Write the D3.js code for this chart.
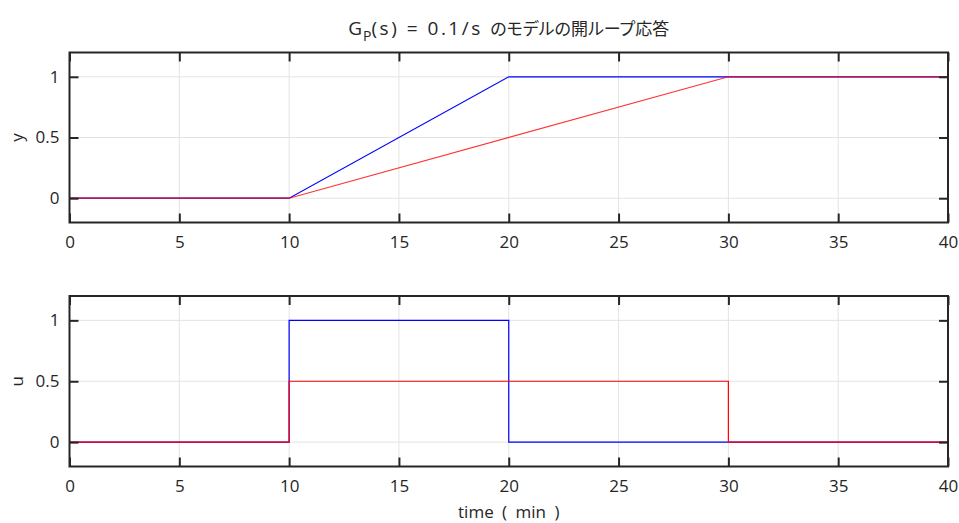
<!DOCTYPE html>
<html>
<head>
    <meta charset="UTF-8">
    <title>open loop response</title>
    <style>
        body { margin: 0; background: white; }
        text { font-family: "Open Sans", "Noto Sans CJK JP", sans-serif; fill: #262626; }
        .jp { font-family: "Noto Sans CJK JP"; font-feature-settings: "palt"; }
    </style>
</head>
<body>
    <svg></svg>
    <script src="https://d3js.org/d3.v7.min.js"></script>
    <script>
        let width = 959, height = 523

        // data: break points of each series (time in min)
        let xTicks = [0, 5, 10, 15, 20, 25, 30, 35, 40]
        let yTicks = [0, 0.5, 1]
        let tBlueY = [0, 10, 20, 40]
        let blueY = [0, 0, 1, 1]
        let tRedY = [0, 10, 30, 40]
        let redY = [0, 0, 1, 1]
        let tBlueU = [0, 10, 20, 40]
        let blueU = [0, 1, 0, 0]
        let tRedU = [0, 10, 30, 40]
        let redU = [0, 0.5, 0, 0]

        let svg = d3.select("svg")
            .attr("width", width)
            .attr("height", height)

        let left = 69.5, right = 948
        let x = d3.scaleLinear().domain([0, 40]).range([left, right])

        function zip(t, v) { return t.map((d, i) => [d, v[i]]) }

        function panel(top, bottom, label, series, curve) {
            let y = d3.scaleLinear().domain([-0.2, 1.2]).range([bottom, top])
            let g = svg.append("g")

            // grid
            g.append("g").selectAll("line").data(xTicks.slice(1, -1)).enter().append("line")
                .attr("x1", d => x(d)).attr("x2", d => x(d))
                .attr("y1", top).attr("y2", bottom)
                .attr("stroke", "#e3e3e3").attr("stroke-width", 1)
            g.append("g").selectAll("line").data(yTicks).enter().append("line")
                .attr("x1", left).attr("x2", right)
                .attr("y1", d => y(d)).attr("y2", d => y(d))
                .attr("stroke", "#e3e3e3").attr("stroke-width", 1)

            // lines
            series.forEach(s => {
                g.append("path")
                    .datum(zip(s.t, s.v))
                    .attr("fill", "none")
                    .attr("stroke", s.color)
                    .attr("stroke-opacity", s.opacity || 1)
                    .attr("stroke-width", 1.2)
                    .attr("d", d3.line().curve(curve).x(d => x(d[0])).y(d => y(d[1])))
            })

            // axes (inward ticks, box)
            let ax = g.append("g").attr("transform", "translate(0," + bottom + ")")
                .call(d3.axisBottom(x).tickValues(xTicks).tickSizeInner(-9).tickSizeOuter(0))
            g.append("g").attr("transform", "translate(0," + top + ")")
                .call(d3.axisTop(x).tickValues(xTicks).tickSizeInner(-9).tickSizeOuter(0).tickFormat(""))
            g.append("g").attr("transform", "translate(" + left + ",0)")
                .call(d3.axisLeft(y).tickValues(yTicks).tickSizeInner(-9).tickSizeOuter(0).tickPadding(10)
                    .tickFormat(d3.format("~g")))
            g.append("g").attr("transform", "translate(" + right + ",0)")
                .call(d3.axisRight(y).tickValues(yTicks).tickSizeInner(-9).tickSizeOuter(0).tickFormat(""))

            g.selectAll(".domain").remove()
            g.selectAll(".tick line").attr("stroke", "#262626").attr("stroke-width", 2)
            g.selectAll(".tick text").attr("font-size", 17).style("fill", "#262626")
                .attr("font-family", "Open Sans")
            ax.selectAll(".tick text").attr("dy", "0.71em").attr("y", 13)

            g.append("rect")
                .attr("x", left).attr("y", top)
                .attr("width", right - left).attr("height", bottom - top)
                .attr("fill", "none").attr("stroke", "#262626").attr("stroke-width", 2)

            g.append("text")
                .attr("transform", "translate(23," + (top + bottom) / 2 + ") rotate(-90)")
                .attr("text-anchor", "middle")
                .attr("font-size", 17)
                .text(label)
        }

        panel(52.5, 222.5, "y", [
            { t: tBlueY, v: blueY, color: "blue" },
            { t: tRedY, v: redY, color: "red", opacity: 0.8 }
        ], d3.curveLinear)

        panel(296, 466.5, "u", [
            { t: tBlueU, v: blueU, color: "blue" },
            { t: tRedU, v: redU, color: "red" }
        ], d3.curveStepAfter)

        // title
        let title = svg.append("text")
            .attr("x", (left + right) / 2)
            .attr("y", 35)
            .attr("text-anchor", "middle")
            .attr("font-size", 19)
        title.append("tspan").attr("letter-spacing", 1).text("G")
        title.append("tspan").attr("font-size", 14).attr("dy", 6).text("P")
        title.append("tspan").attr("dy", -6).attr("letter-spacing", 2.5).text("(s) = 0.1/s ")
        title.append("tspan").attr("class", "jp").attr("font-size", 17).text("のモデルの開ループ応答")

        svg.append("text")
            .attr("x", (left + right) / 2)
            .attr("y", 518)
            .attr("text-anchor", "middle")
            .attr("font-size", 17)
            .attr("word-spacing", 4)
            .text("time ( min )")
    </script>
</body>
</html>
